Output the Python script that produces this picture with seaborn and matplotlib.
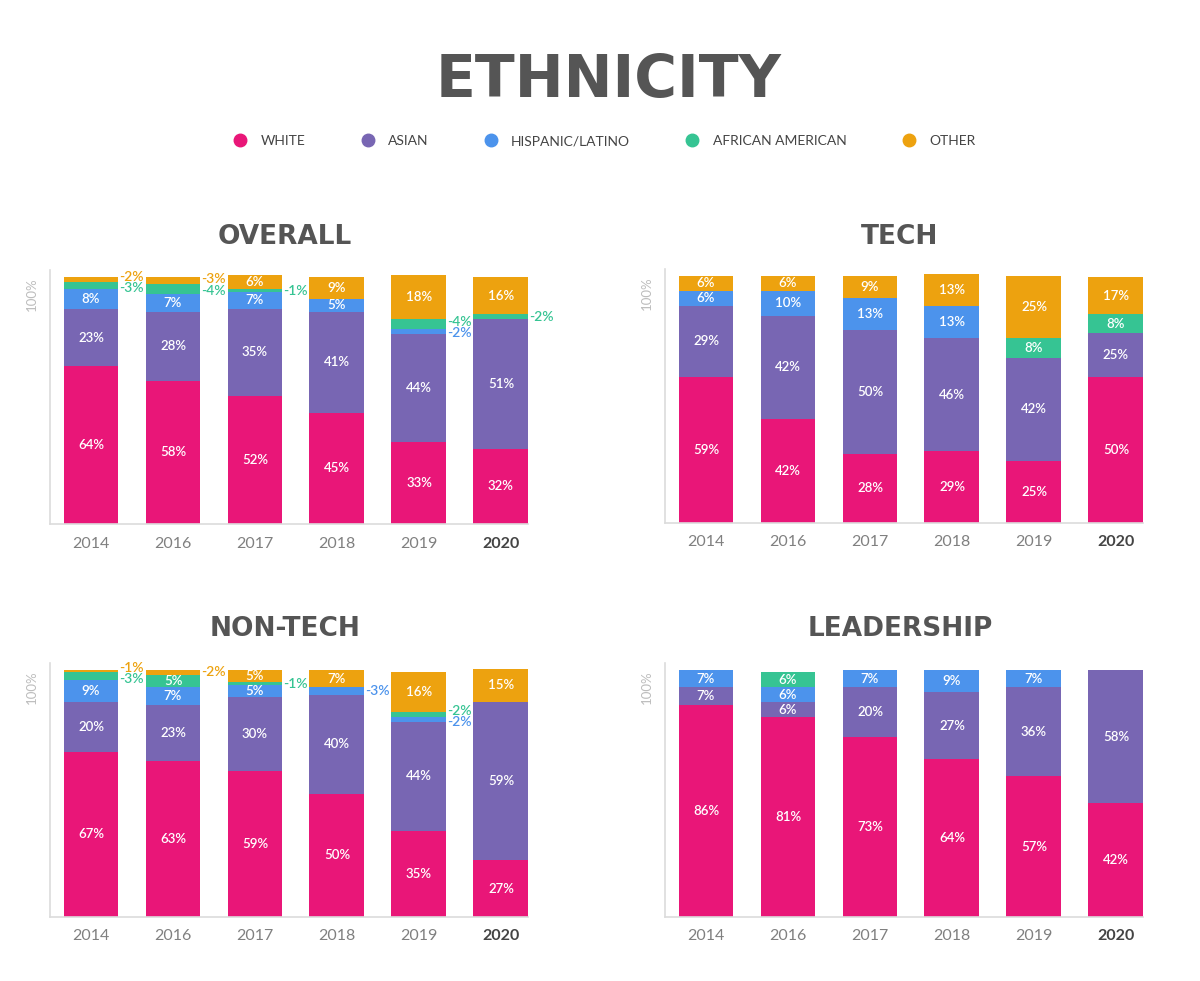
import numpy as np
import pandas as pd
import matplotlib
matplotlib.use("Agg")
import matplotlib.pyplot as plt
import seaborn as sns
from matplotlib.lines import Line2D

# ---------------- data ----------------
years = ["2014", "2016", "2017", "2018", "2019", "2020"]
groups = ["WHITE", "ASIAN", "HISPANIC/LATINO", "AFRICAN AMERICAN", "OTHER"]
group_colors = ["#E91678", "#7866B3", "#4C93EC", "#36C493", "#EDA20F"]

# labelled shares (%), order of years above
overall_white = [64, 58, 52, 45, 33, 32]
overall_asian = [23, 28, 35, 41, 44, 51]
overall_hispanic = [8, 7, 7, 5, 2, 0]
overall_african = [3, 4, 1, 0, 4, 2]
overall_other = [2, 3, 6, 9, 18, 16]

tech_white = [59, 42, 28, 29, 25, 50]
tech_asian = [29, 42, 50, 46, 42, 25]
tech_hispanic = [6, 10, 13, 13, 0, 0]
tech_african = [0, 0, 0, 0, 8, 8]
tech_other = [6, 6, 9, 13, 25, 17]

nontech_white = [67, 63, 59, 50, 35, 27]
nontech_asian = [20, 23, 30, 40, 44, 59]
nontech_hispanic = [9, 7, 5, 3, 2, 0]
nontech_african = [3, 5, 1, 0, 2, 0]
nontech_other = [1, 2, 5, 7, 16, 15]

lead_white = [86, 81, 73, 64, 57, 42]
lead_asian = [7, 6, 20, 27, 36, 58]
lead_hispanic = [7, 6, 7, 9, 7, 0]
lead_african = [0, 6, 0, 0, 0, 0]
lead_other = [0, 0, 0, 0, 0, 0]

# the 2020 columns in the original graphic are drawn with heights that
# differ from their labels; these are the drawn shares (white..other)
overall_2020_drawn = [30.5, 52.5, 0, 2, 15]
tech_2020_drawn = [59, 18, 0, 7.5, 15]
nontech_2020_drawn = [23, 64, 0, 0, 13.5]
lead_2020_drawn = [46, 54, 0, 0, 0]

panel_titles = ["OVERALL", "TECH", "NON-TECH", "LEADERSHIP"]
panel_data = [
    [overall_white, overall_asian, overall_hispanic, overall_african, overall_other],
    [tech_white, tech_asian, tech_hispanic, tech_african, tech_other],
    [nontech_white, nontech_asian, nontech_hispanic, nontech_african, nontech_other],
    [lead_white, lead_asian, lead_hispanic, lead_african, lead_other],
]
panel_2020 = [overall_2020_drawn, tech_2020_drawn, nontech_2020_drawn, lead_2020_drawn]

# ---------------- style ----------------
sns.set_theme(style="white")
plt.rcParams["font.family"] = ["Lato", "DejaVu Sans"]

W, H = 1200, 981
fig = plt.figure(figsize=(W / 100, H / 100), dpi=100)
fig.patch.set_facecolor("white")

px_per_unit = 2.47
ytop = 103
ax_h = ytop * px_per_unit / H
boxes = [(50, 528, 524), (665, 1143, 523), (50, 528, 917), (665, 1143, 917)]
title_y = [237, 237, 629, 629]

bar_w = 0.67

for p, (title, series) in enumerate(zip(panel_titles, panel_data)):
    lpx, rpx, bpx = boxes[p]
    ax = fig.add_axes([lpx / W, 1 - bpx / H, (rpx - lpx) / W, ax_h])
    vals = np.array(series, dtype=float)  # labels, 5 x 6
    drawn = vals.copy()
    drawn[:, -1] = panel_2020[p]
    cum = np.cumsum(drawn, axis=0)
    for g in range(len(groups) - 1, -1, -1):
        df = pd.DataFrame({"year": years, "v": cum[g]})
        sns.barplot(data=df, x="year", y="v", order=years, color=group_colors[g],
                    width=bar_w, saturation=1, errorbar=None, linewidth=0, ax=ax)
    ax.set_xlim(-0.5, 5.33)
    ax.set_ylim(0, ytop)
    ax.set_xlabel("")
    ax.set_ylabel("")
    ax.set_yticks([])
    ax.set_xticks(range(len(years)))
    ax.set_xticklabels(years)
    ax.tick_params(axis="x", length=0, pad=9)
    for i, tl in enumerate(ax.get_xticklabels()):
        tl.set_fontsize(11.5)
        if i == len(years) - 1:
            tl.set_color("#444444")
            tl.set_fontweight("bold")
        else:
            tl.set_color("#808080")
    for s in ["top", "right"]:
        ax.spines[s].set_visible(False)
    for s in ["left", "bottom"]:
        ax.spines[s].set_color("#dcdcdc")
        ax.spines[s].set_linewidth(1.2)

    for i in range(len(years)):
        outside = []
        for g in range(len(groups)):
            v = vals[g, i]
            if v <= 0:
                continue
            mid = cum[g, i] - drawn[g, i] / 2
            if v >= 5:
                ax.text(i, mid, f"{int(v)}%", ha="center", va="center",
                        color="white", fontsize=9.5, fontweight="semibold")
            else:
                outside.append([mid, g, v])
        outside.sort(key=lambda t: t[0])
        for k in range(1, len(outside)):
            if outside[k][0] - outside[k - 1][0] < 4.5:
                m = (outside[k][0] + outside[k - 1][0]) / 2
                outside[k - 1][0] = m - 2.25
                outside[k][0] = m + 2.25
        for y, g, v in outside:
            ax.annotate(f"-{int(v)}%", xy=(i + bar_w / 2, y), xytext=(0.5, 0),
                        textcoords="offset points", ha="left", va="center",
                        color=group_colors[g], fontsize=10, fontweight="semibold",
                        annotation_clip=False)

    ax.annotate("100%", xy=(0, 100), xycoords=("axes fraction", "data"),
                xytext=(-13, 0), textcoords="offset points", rotation=90,
                ha="center", va="top", color="#bdbdbd", fontsize=9.5)

    fig.text(((lpx + rpx) / 2 - 4) / W, 1 - title_y[p] / H, title, ha="center",
             va="center", fontsize=19, fontweight="heavy", color="#555555",
             family="DejaVu Sans")

fig.text(0.507, 1 - 81 / H, "ETHNICITY", ha="center", va="center", fontsize=42,
         fontweight="heavy", color="#555555", family="DejaVu Sans")

handles = [Line2D([], [], marker="o", ls="", markersize=9,
                  markerfacecolor=c, markeredgecolor=c) for c in group_colors]
fig.legend(handles, groups, loc="center", bbox_to_anchor=(0.503, 1 - 141 / H),
           ncol=5, frameon=False, handletextpad=0.85, columnspacing=3.9,
           handlelength=1.2, prop={"size": 10}, labelcolor="#444444")

fig.savefig("out.png", dpi=100, facecolor="white")
